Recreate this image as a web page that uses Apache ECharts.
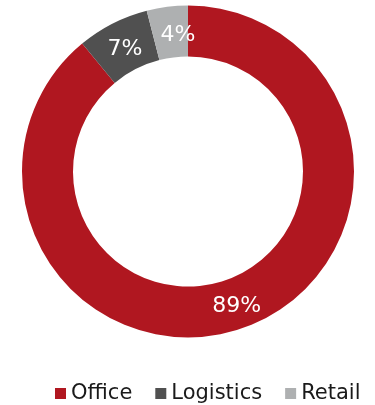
<!DOCTYPE html>
<html>
<head>
<meta charset="utf-8">
<script src="https://cdn.jsdelivr.net/npm/echarts@6/dist/echarts.min.js"></script>
<style>
  html, body { margin: 0; padding: 0; background: #fff; }
  #chart { width: 375px; height: 405px; }
</style>
</head>
<body>
<div id="chart"></div>
<script>
// Share of portfolio by sector
const sectors = ['Office', 'Logistics', 'Retail'];
const shares = [89, 7, 4];
const colors = ['#B01720', '#505050', '#AEB0B1'];
// Small nudges for the labels of the two narrow slices
const labelOffsets = [[0, 0], [2, 6], [8, 6]];

const chart = echarts.init(document.getElementById('chart'), null, { renderer: 'canvas' });

chart.setOption({
  animation: false,
  color: colors,
  textStyle: { fontFamily: 'DejaVu Sans' },
  legend: {
    data: sectors,
    top: 378,
    left: 50,
    itemWidth: 11,
    itemHeight: 11,
    itemGap: 23,
    icon: 'rect',
    textStyle: { fontSize: 21, color: '#1a1a1a', fontFamily: 'DejaVu Sans', padding: 0 }
  },
  series: [{
    type: 'pie',
    center: [188, 171.5],
    radius: [115, 166],
    startAngle: 90,
    clockwise: true,
    label: {
      show: true,
      position: 'inside',
      formatter: '{c}%',
      color: '#ffffff',
      fontSize: 22,
      fontFamily: 'DejaVu Sans'
    },
    labelLine: { show: false },
    emphasis: { disabled: true },
    itemStyle: { borderWidth: 0 },
    data: sectors.map((name, i) => ({
      name,
      value: shares[i],
      label: { offset: labelOffsets[i] }
    }))
  }]
});
</script>
</body>
</html>
